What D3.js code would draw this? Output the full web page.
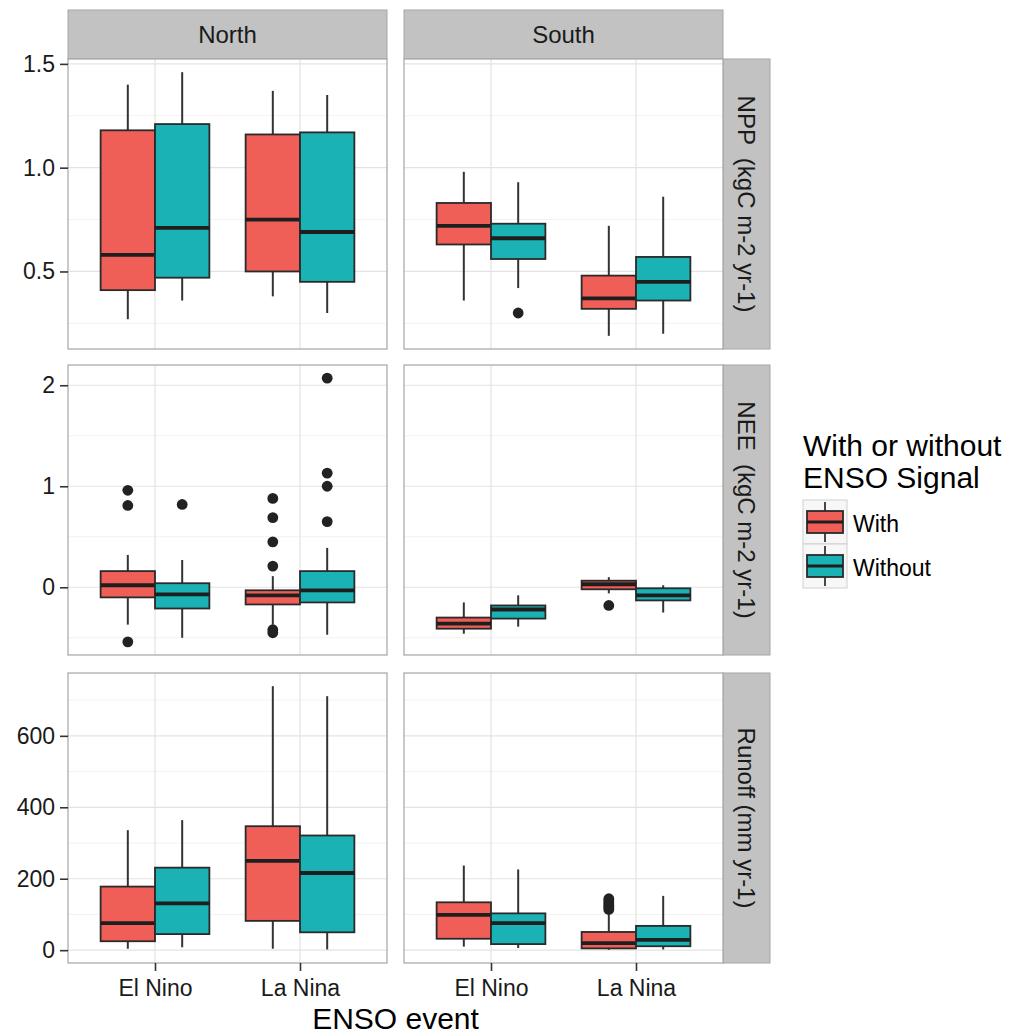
<!DOCTYPE html>
<html>
<head>
<meta charset="utf-8">
<script src="https://cdn.jsdelivr.net/npm/d3@7"></script>
<style>
  body { margin: 0; background: #fff; }
  text { font-family: "Liberation Sans", Arial, Helvetica, sans-serif; }
</style>
</head>
<body>
<div id="chart"></div>
<script>
const regions = ["North", "South"];
const events = ["El Nino", "La Nina"];
const signals = ["With", "Without"];
const rowLabels = ["NPP  (kgC m-2 yr-1)", "NEE  (kgC m-2 yr-1)", "Runoff (mm yr-1)"];
const rowTicks = [[0.5, 1.0, 1.5], [0, 1, 2], [0, 200, 400, 600]];
const rowFormats = [".1f", "d", "d"];

// box stats: [lower whisker, q1, median, q3, upper whisker]
// order: El Nino/With, El Nino/Without, La Nina/With, La Nina/Without
const nppNorth = [[0.27, 0.41, 0.58, 1.18, 1.40], [0.36, 0.47, 0.71, 1.21, 1.46], [0.38, 0.50, 0.75, 1.16, 1.37], [0.30, 0.45, 0.69, 1.17, 1.35]];
const nppSouth = [[0.36, 0.63, 0.72, 0.83, 0.98], [0.42, 0.56, 0.66, 0.73, 0.93], [0.19, 0.32, 0.37, 0.48, 0.72], [0.20, 0.36, 0.45, 0.57, 0.86]];
const neeNorth = [[-0.37, -0.10, 0.02, 0.16, 0.32], [-0.50, -0.21, -0.07, 0.04, 0.27], [-0.37, -0.17, -0.08, -0.03, 0.11], [-0.47, -0.15, -0.03, 0.16, 0.39]];
const neeSouth = [[-0.46, -0.41, -0.36, -0.30, -0.15], [-0.39, -0.31, -0.22, -0.18, -0.08], [-0.06, -0.02, 0.03, 0.065, 0.10], [-0.25, -0.13, -0.08, -0.01, 0.02]];
const runoffNorth = [[4, 25, 76, 178, 336], [8, 45, 131, 231, 364], [4, 82, 250, 347, 739], [2, 50, 216, 321, 711]];
const runoffSouth = [[10, 32, 99, 134, 237], [6, 17, 76, 103, 226], [1, 5, 20, 51, 109], [2, 11, 29, 68, 152]];

// outliers, same order
const nppNorthOut = [[], [], [], []];
const nppSouthOut = [[], [0.30], [], []];
const neeNorthOut = [[0.96, 0.81, -0.54], [0.82], [0.88, 0.69, 0.45, 0.21, -0.42, -0.45], [2.07, 1.13, 1.00, 0.65]];
const neeSouthOut = [[], [], [-0.18], []];
const runoffNorthOut = [[], [], [], []];
const runoffSouthOut = [[], [], [114, 120, 126, 132, 138, 144], []];

const colors = ["#F05E58", "#1BB2B5"];

const stats = [[nppNorth, nppSouth], [neeNorth, neeSouth], [runoffNorth, runoffSouth]];
const outs = [[nppNorthOut, nppSouthOut], [neeNorthOut, neeSouthOut], [runoffNorthOut, runoffSouthOut]];

const width = 1019, height = 1034;
const panelX = [68, 404];
const panelW = 319;
const rowY = [59, 365, 673];
const panelH = 290;
const stripTop = 10, stripRightW = 47;

const svg = d3.select("#chart").append("svg")
  .attr("width", width)
  .attr("height", height);

// x scale shared (ggplot discrete: 0.6 expansion)
const x = d3.scalePoint().domain(events).range([0, panelW]).padding(0.6);
const step = x.step();
const xSig = d3.scaleBand().domain(signals).range([-0.375 * step, 0.375 * step]);

// top strips
regions.forEach((r, j) => {
  const g = svg.append("g").attr("transform", "translate(" + panelX[j] + "," + stripTop + ")");
  g.append("rect").attr("width", panelW).attr("height", rowY[0] - stripTop)
    .attr("fill", "#C2C2C2").attr("stroke", "#A6A6A6").attr("stroke-width", 1);
  g.append("text").attr("x", panelW / 2).attr("y", (rowY[0] - stripTop) / 2)
    .attr("dy", "0.36em").attr("text-anchor", "middle")
    .attr("font-size", 24).attr("fill", "#1a1a1a").text(r);
});

rowLabels.forEach((lab, i) => {
  // y scale per row with 5% expansion
  const all = [];
  stats[i].forEach(s => s.forEach(b => all.push(b[0], b[4])));
  outs[i].forEach(o => o.forEach(a => a.forEach(v => all.push(v))));
  const ext = d3.extent(all);
  const pad = (ext[1] - ext[0]) * 0.05;
  const y = d3.scaleLinear().domain([ext[0] - pad, ext[1] + pad]).range([rowY[i] + panelH, rowY[i]]);
  const majors = rowTicks[i];
  const d = majors[1] - majors[0];
  const minors = [];
  for (let v = majors[0] - d / 2; v <= y.domain()[1]; v += d) {
    if (v >= y.domain()[0]) minors.push(v);
  }

  // right strip
  const sx = panelX[1] + panelW;
  svg.append("rect").attr("x", sx).attr("y", rowY[i]).attr("width", stripRightW).attr("height", panelH)
    .attr("fill", "#C2C2C2").attr("stroke", "#A6A6A6").attr("stroke-width", 1);
  svg.append("text")
    .attr("transform", "translate(" + (sx + stripRightW / 2) + "," + (rowY[i] + panelH / 2) + ") rotate(90)")
    .attr("dy", "0.36em").attr("text-anchor", "middle")
    .attr("font-size", 24).attr("fill", "#1a1a1a")
    .style("white-space", "pre").text(lab);

  regions.forEach((r, j) => {
    const g = svg.append("g").attr("transform", "translate(" + panelX[j] + ",0)");
    g.append("rect").attr("y", rowY[i]).attr("width", panelW).attr("height", panelH).attr("fill", "#fff");

    // grid
    g.selectAll(".minor").data(minors).enter().append("line")
      .attr("x1", 0).attr("x2", panelW).attr("y1", v => y(v)).attr("y2", v => y(v))
      .attr("stroke", "#F2F2F2").attr("stroke-width", 1);
    g.selectAll(".major").data(majors).enter().append("line")
      .attr("x1", 0).attr("x2", panelW).attr("y1", v => y(v)).attr("y2", v => y(v))
      .attr("stroke", "#E3E3E3").attr("stroke-width", 1.2);
    g.selectAll(".xmajor").data(events).enter().append("line")
      .attr("x1", e => x(e)).attr("x2", e => x(e)).attr("y1", rowY[i]).attr("y2", rowY[i] + panelH)
      .attr("stroke", "#E3E3E3").attr("stroke-width", 1.2);

    // boxes
    const boxes = [];
    events.forEach((e, ei) => signals.forEach((s, si) => {
      boxes.push({ e: e, s: s, si: si, b: stats[i][j][ei * 2 + si], o: outs[i][j][ei * 2 + si] });
    }));
    const bw = xSig.bandwidth();
    boxes.forEach(bx => {
      const cx = x(bx.e) + xSig(bx.s) + bw / 2;
      const b = bx.b;
      g.append("line").attr("x1", cx).attr("x2", cx).attr("y1", y(b[4])).attr("y2", y(b[3]))
        .attr("stroke", "#333").attr("stroke-width", 2);
      g.append("line").attr("x1", cx).attr("x2", cx).attr("y1", y(b[1])).attr("y2", y(b[0]))
        .attr("stroke", "#333").attr("stroke-width", 2);
      g.append("rect").attr("x", cx - bw / 2).attr("y", y(b[3]))
        .attr("width", bw).attr("height", y(b[1]) - y(b[3]))
        .attr("fill", colors[bx.si]).attr("stroke", "#2a2a2a").attr("stroke-width", 1.8);
      g.append("line").attr("x1", cx - bw / 2).attr("x2", cx + bw / 2).attr("y1", y(b[2])).attr("y2", y(b[2]))
        .attr("stroke", "#1e1e1e").attr("stroke-width", 3.8);
      g.selectAll(null).data(bx.o).enter().append("circle")
        .attr("cx", cx).attr("cy", v => y(v)).attr("r", 5.4).attr("fill", "#222");
    });

    g.append("rect").attr("y", rowY[i]).attr("width", panelW).attr("height", panelH)
      .attr("fill", "none").attr("stroke", "#A6A6A6").attr("stroke-width", 1.2);

    if (j === 0) {
      const ax = g.append("g").call(d3.axisLeft(y).tickValues(majors).tickSize(8).tickPadding(5)
        .tickFormat(d3.format(rowFormats[i])));
      ax.select(".domain").remove();
      ax.selectAll("line").attr("stroke", "#333").attr("stroke-width", 1.6);
      ax.selectAll("text").attr("font-size", 23).attr("fill", "#1a1a1a").attr("font-family", null);
    }
    if (i === rowLabels.length - 1) {
      const ax = g.append("g").attr("transform", "translate(0," + (rowY[i] + panelH) + ")")
        .call(d3.axisBottom(x).tickSize(8).tickPadding(9));
      ax.select(".domain").remove();
      ax.selectAll("line").attr("stroke", "#333").attr("stroke-width", 1.6);
      ax.selectAll("text").attr("font-size", 23).attr("fill", "#1a1a1a").attr("font-family", null);
    }
  });
});

// x axis title
svg.append("text").attr("x", (panelX[0] + panelX[1] + panelW) / 2).attr("y", 1029)
  .attr("text-anchor", "middle").attr("font-size", 30).attr("fill", "#000").text("ENSO event");

// legend
const leg = svg.append("g").attr("transform", "translate(803,0)");
leg.append("text").attr("y", 456).attr("font-size", 30).attr("fill", "#000").text("With or without");
leg.append("text").attr("y", 488).attr("font-size", 30).attr("fill", "#000").text("ENSO Signal");
signals.forEach((s, k) => {
  const ky = 500 + k * 44;
  leg.append("rect").attr("y", ky).attr("width", 44).attr("height", 44)
    .attr("fill", "#F7F7F7").attr("stroke", "#CFCFCF").attr("stroke-width", 1);
  leg.append("line").attr("x1", 22).attr("x2", 22).attr("y1", ky + 2).attr("y2", ky + 42)
    .attr("stroke", "#333").attr("stroke-width", 1.8);
  leg.append("rect").attr("x", 4).attr("y", ky + 11).attr("width", 36).attr("height", 22)
    .attr("fill", colors[k]).attr("stroke", "#2a2a2a").attr("stroke-width", 1.8);
  leg.append("line").attr("x1", 4).attr("x2", 40).attr("y1", ky + 22).attr("y2", ky + 22)
    .attr("stroke", "#1e1e1e").attr("stroke-width", 3);
  leg.append("text").attr("x", 50).attr("y", ky + 32).attr("font-size", 23).attr("fill", "#000").text(s);
});
</script>
</body>
</html>
